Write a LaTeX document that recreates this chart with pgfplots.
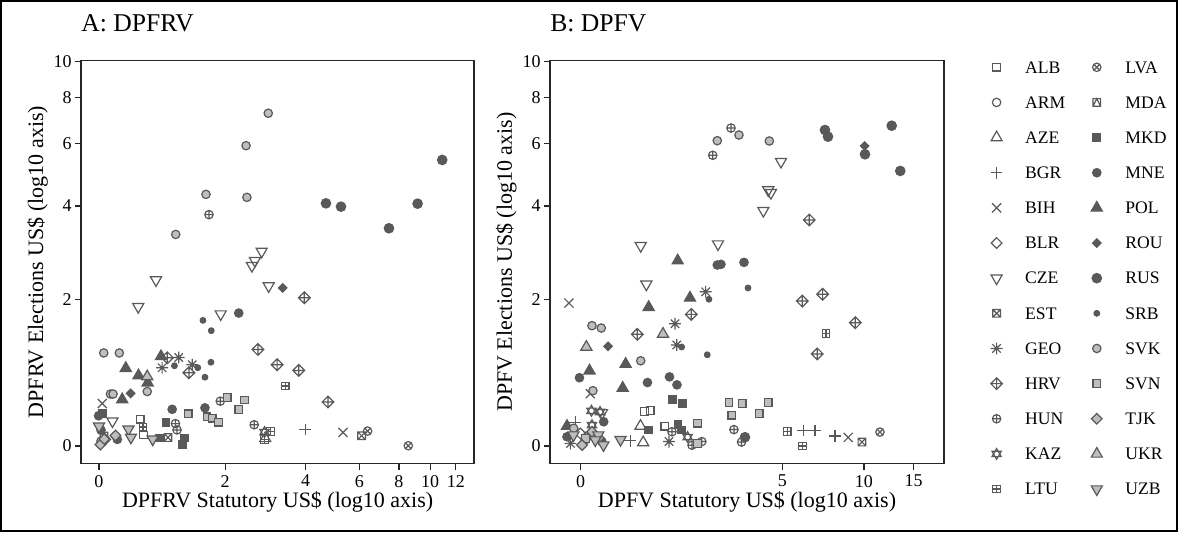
\documentclass[border=0pt]{standalone}
\usepackage{fontspec}
\setmainfont{Liberation Serif}
\usepackage{pgfplots}
\pgfplotsset{compat=1.18}

\definecolor{darkc}{HTML}{595959}
\definecolor{lightc}{HTML}{BEBEBE}

% R-style plotting symbols that pgf lacks
\pgfdeclareplotmark{rdia}{%
  \pgfpathmoveto{\pgfpoint{0pt}{\pgfplotmarksize}}%
  \pgfpathlineto{\pgfpoint{\pgfplotmarksize}{0pt}}%
  \pgfpathlineto{\pgfpoint{0pt}{-\pgfplotmarksize}}%
  \pgfpathlineto{\pgfpoint{-\pgfplotmarksize}{0pt}}%
  \pgfpathclose\pgfusepathqstroke}
\pgfdeclareplotmark{rdia*}{%
  \pgfpathmoveto{\pgfpoint{0pt}{\pgfplotmarksize}}%
  \pgfpathlineto{\pgfpoint{\pgfplotmarksize}{0pt}}%
  \pgfpathlineto{\pgfpoint{0pt}{-\pgfplotmarksize}}%
  \pgfpathlineto{\pgfpoint{-\pgfplotmarksize}{0pt}}%
  \pgfpathclose\pgfusepathqfillstroke}
\pgfdeclareplotmark{rdiaplus}{%
  \pgfpathmoveto{\pgfpoint{0pt}{\pgfplotmarksize}}%
  \pgfpathlineto{\pgfpoint{\pgfplotmarksize}{0pt}}%
  \pgfpathlineto{\pgfpoint{0pt}{-\pgfplotmarksize}}%
  \pgfpathlineto{\pgfpoint{-\pgfplotmarksize}{0pt}}%
  \pgfpathclose
  \pgfpathmoveto{\pgfpoint{0pt}{\pgfplotmarksize}}\pgfpathlineto{\pgfpoint{0pt}{-\pgfplotmarksize}}%
  \pgfpathmoveto{\pgfpoint{-\pgfplotmarksize}{0pt}}\pgfpathlineto{\pgfpoint{\pgfplotmarksize}{0pt}}%
  \pgfusepathqstroke}
\pgfdeclareplotmark{tridown}{%
  \pgfpathmoveto{\pgfpointpolar{270}{\pgfplotmarksize}}%
  \pgfpathlineto{\pgfpointpolar{30}{\pgfplotmarksize}}%
  \pgfpathlineto{\pgfpointpolar{150}{\pgfplotmarksize}}%
  \pgfpathclose\pgfusepathqstroke}
\pgfdeclareplotmark{tridown*}{%
  \pgfpathmoveto{\pgfpointpolar{270}{\pgfplotmarksize}}%
  \pgfpathlineto{\pgfpointpolar{30}{\pgfplotmarksize}}%
  \pgfpathlineto{\pgfpointpolar{150}{\pgfplotmarksize}}%
  \pgfpathclose\pgfusepathqfillstroke}
\pgfdeclareplotmark{david}{%
  \pgfpathmoveto{\pgfpointpolar{90}{\pgfplotmarksize}}%
  \pgfpathlineto{\pgfpointpolar{210}{\pgfplotmarksize}}%
  \pgfpathlineto{\pgfpointpolar{330}{\pgfplotmarksize}}%
  \pgfpathclose
  \pgfpathmoveto{\pgfpointpolar{270}{\pgfplotmarksize}}%
  \pgfpathlineto{\pgfpointpolar{30}{\pgfplotmarksize}}%
  \pgfpathlineto{\pgfpointpolar{150}{\pgfplotmarksize}}%
  \pgfpathclose\pgfusepathqstroke}
\pgfdeclareplotmark{boxx}{%
  \pgfpathrectanglecorners{\pgfpoint{-\pgfplotmarksize}{-\pgfplotmarksize}}{\pgfpoint{\pgfplotmarksize}{\pgfplotmarksize}}%
  \pgfpathmoveto{\pgfpoint{-\pgfplotmarksize}{-\pgfplotmarksize}}\pgfpathlineto{\pgfpoint{\pgfplotmarksize}{\pgfplotmarksize}}%
  \pgfpathmoveto{\pgfpoint{-\pgfplotmarksize}{\pgfplotmarksize}}\pgfpathlineto{\pgfpoint{\pgfplotmarksize}{-\pgfplotmarksize}}%
  \pgfusepathqstroke}
\pgfdeclareplotmark{boxplus}{%
  \pgfpathrectanglecorners{\pgfpoint{-\pgfplotmarksize}{-\pgfplotmarksize}}{\pgfpoint{\pgfplotmarksize}{\pgfplotmarksize}}%
  \pgfpathmoveto{\pgfpoint{0pt}{-\pgfplotmarksize}}\pgfpathlineto{\pgfpoint{0pt}{\pgfplotmarksize}}%
  \pgfpathmoveto{\pgfpoint{-\pgfplotmarksize}{0pt}}\pgfpathlineto{\pgfpoint{\pgfplotmarksize}{0pt}}%
  \pgfusepathqstroke}
\pgfdeclareplotmark{boxtri}{%
  \pgfpathrectanglecorners{\pgfpoint{-\pgfplotmarksize}{-\pgfplotmarksize}}{\pgfpoint{\pgfplotmarksize}{\pgfplotmarksize}}%
  \pgfpathmoveto{\pgfpoint{-\pgfplotmarksize}{-\pgfplotmarksize}}%
  \pgfpathlineto{\pgfpoint{0pt}{\pgfplotmarksize}}%
  \pgfpathlineto{\pgfpoint{\pgfplotmarksize}{-\pgfplotmarksize}}%
  \pgfusepathqstroke}
\pgfdeclareplotmark{ast8}{%
  \pgfpathmoveto{\pgfpoint{0pt}{1.414\pgfplotmarksize}}\pgfpathlineto{\pgfpoint{0pt}{-1.414\pgfplotmarksize}}%
  \pgfpathmoveto{\pgfpoint{-1.414\pgfplotmarksize}{0pt}}\pgfpathlineto{\pgfpoint{1.414\pgfplotmarksize}{0pt}}%
  \pgfpathmoveto{\pgfpoint{-\pgfplotmarksize}{-\pgfplotmarksize}}\pgfpathlineto{\pgfpoint{\pgfplotmarksize}{\pgfplotmarksize}}%
  \pgfpathmoveto{\pgfpoint{-\pgfplotmarksize}{\pgfplotmarksize}}\pgfpathlineto{\pgfpoint{\pgfplotmarksize}{-\pgfplotmarksize}}%
  \pgfusepathqstroke}

\pgfplotsset{
  mk/.style={only marks, line width=0.6pt, mark options={solid, draw=darkc, fill=#1}},
  ALB/.style={mk=white, mark=square, mark size=1.9pt},
  ARM/.style={mk=white, mark=o, mark size=2.1pt},
  AZE/.style={mk=white, mark=triangle, mark size=3.2pt},
  BGR/.style={mk=white, mark=+, mark size=2.92pt},
  BIH/.style={mk=white, mark=x, mark size=3.2pt},
  BLR/.style={mk=white, mark=rdia, mark size=2.65pt},
  CZE/.style={mk=white, mark=tridown, mark size=3.2pt},
  EST/.style={mk=white, mark=boxx, mark size=1.9pt},
  GEO/.style={mk=white, mark=ast8, mark size=2.1pt},
  HRV/.style={mk=white, mark=rdiaplus, mark size=2.92pt},
  HUN/.style={mk=white, mark=oplus, mark size=2.1pt},
  KAZ/.style={mk=white, mark=david, mark size=2.7pt},
  LTU/.style={mk=white, mark=boxplus, mark size=1.9pt},
  LVA/.style={mk=white, mark=otimes, mark size=2.1pt},
  MDA/.style={mk=white, mark=boxtri, mark size=1.9pt},
  MKD/.style={mk=darkc, mark=square*, mark size=1.9pt},
  MNE/.style={mk=darkc, mark=*, mark size=2.1pt},
  POL/.style={mk=darkc, mark=triangle*, mark size=3.2pt},
  ROU/.style={mk=darkc, mark=rdia*, mark size=2.1pt},
  RUS/.style={mk=darkc, mark=*, mark size=2.35pt},
  SRB/.style={mk=darkc, mark=*, mark size=1.4pt},
  SVK/.style={mk=lightc, mark=*, mark size=2.1pt},
  SVN/.style={mk=lightc, mark=square*, mark size=1.9pt},
  TJK/.style={mk=lightc, mark=rdia*, mark size=2.65pt},
  UKR/.style={mk=lightc, mark=triangle*, mark size=3.2pt},
  UZB/.style={mk=lightc, mark=tridown*, mark size=3.2pt},
  % both axes are pseudo-log: positions are asinh(value/2)
  panel/.style={
    scale only axis, height=201.4pt, anchor=south west,
    ymin=-0.105, ymax=2.318,
    ytick={0,0.8814,1.4436,1.8184,2.0947,2.3124},
    yticklabels={0,2,4,6,8,10},
    xtick pos=left, ytick pos=left,
    tick align=outside, major tick length=3pt,
    axis line style={line width=0.8pt, black!85},
    major tick style={line width=0.6pt, black!85},
    tick label style={font=\fontsize{9}{10}\selectfont},
    yticklabel style={inner sep=1.5pt},
    xticklabel style={inner sep=0pt, yshift=-2.6pt},
    label style={font=\fontsize{11}{13}\selectfont, inner sep=0pt},
    xlabel style={at={(axis description cs:0.5,-0.1093)}, anchor=base},
    ylabel style={at={(axis description cs:-0.0966,0.5)}, anchor=base},
    title style={at={(axis description cs:0,1.0432)}, anchor=base west,
      inner sep=0pt, font=\fontsize{12.8}{14}\selectfont},
  },
}

\begin{document}
\begin{tikzpicture}
\begin{axis}[panel, at={(40.5pt,34.25pt)}, width=196.65pt,
    xmin=-0.1257, xmax=2.621,
    xtick={0,0.8814,1.4436,1.8184,2.0947,2.3124,2.4918},
    xticklabels={0,2,4,6,8,10,12},
    title={A: DPFRV},
    xlabel={DPFRV Statutory US\$ (log10 axis)},
    ylabel={DPFRV Elections US\$ (log10 axis)}]
\addplot[ALB] coordinates {(0.288,0.161)(0.311,0.067)};
\addplot[ARM] coordinates {(0.014,0.030)};
\addplot[AZE] coordinates {(1.161,0.046)};
\addplot[BGR] coordinates {(1.441,0.100)};
\addplot[BIH] coordinates {(0.023,0.256)(1.704,0.082)};
\addplot[BLR] coordinates {(0.044,0.040)};
\addplot[CZE] coordinates {(1.136,1.171)(1.089,1.115)(1.068,1.085)(0.398,0.999)
  (1.185,0.963)(0.274,0.838)(0.850,0.794)(0.094,0.150)};
\addplot[EST] coordinates {(0.482,0.051)(1.834,0.062)};
\addplot[GEO] coordinates {(0.441,0.471)(0.557,0.533)(0.651,0.489)};
\addplot[HRV] coordinates {(1.434,0.892)(1.110,0.581)(1.244,0.489)(1.395,0.455)
  (1.599,0.265)(0.477,0.531)(0.628,0.441)};
\addplot[HUN] coordinates {(0.768,1.392)(0.534,0.135)(0.545,0.097)(0.847,0.270)(1.084,0.128)};
\addplot[KAZ] coordinates {(1.156,0.084)};
\addplot[LTU] coordinates {(0.307,0.114)(1.301,0.361)(1.198,0.087)(1.157,0.040)};
\addplot[LVA] coordinates {(1.876,0.090)(2.160,0.002)};
\addplot[MDA] coordinates {(0.035,0.060)};
\addplot[MKD] coordinates {(0.024,0.196)(0.468,0.141)(0.420,0.048)(0.597,0.049)(0.584,0.010)};
\addplot[MNE] coordinates {(0.976,0.800)(0.511,0.221)(0.740,0.230)(-0.003,0.182)
  (0.128,0.040)(0.014,0.096)};
\addplot[POL] coordinates {(0.187,0.468)(0.276,0.424)(0.433,0.539)(0.162,0.280)(0.340,0.381)};
\addplot[ROU] coordinates {(1.283,0.951)(0.221,0.317)};
\addplot[RUS] coordinates {(1.585,1.460)(1.690,1.440)(2.225,1.458)(2.025,1.310)(2.397,1.721)};
\addplot[SRB] coordinates {(0.726,0.756)(0.784,0.694)(0.782,0.504)(0.527,0.483)
  (0.690,0.471)(0.740,0.414)};
\addplot[SVK] coordinates {(1.182,2.002)(1.027,1.807)(0.747,1.514)(1.033,1.496)
  (0.536,1.273)(0.033,0.560)(0.142,0.560)(0.080,0.313)(0.098,0.313)(0.337,0.328)};
\addplot[SVN] coordinates {(0.623,0.194)(0.754,0.176)(0.790,0.168)(0.834,0.143)
  (0.895,0.292)(0.976,0.221)(1.017,0.277)};
\addplot[TJK] coordinates {(0.010,0.009)(0.037,0.042)(0.115,0.063)};
\addplot[UKR] coordinates {(0.337,0.418)};
\addplot[UZB] coordinates {(0.000,0.119)(0.206,0.101)(0.223,0.052)(0.375,0.041)};
\end{axis}

\begin{axis}[panel, at={(275pt,34.25pt)}, width=197pt,
    xmin=-0.2506, xmax=2.966,
    xtick={0,1.6472,2.3124,2.7173},
    xticklabels={0,5,10,15},
    title={B: DPFV},
    xlabel={DPFV Statutory US\$ (log10 axis)},
    ylabel={DPFV Elections US\$ (log10 axis)},
    legend columns=13, transpose legend, legend cell align=left,
    legend image code/.code={\path (-9pt,0pt) (9pt,0pt); \draw[#1] plot coordinates {(0pt,0pt)};},
    legend style={at={(1.0863,1.0273)}, anchor=north west, draw=none, fill=none,
      inner sep=0pt, outer sep=0pt, row sep=0pt, font=\fontsize{8.8}{10}\selectfont,
      nodes={inner sep=0pt, text width=22pt, text height=5.8pt, text depth=0pt,
        minimum height=17.575pt},
      /tikz/every odd column/.append style={column sep=5pt},
      /tikz/every even column/.append style={column sep=4.5pt}}]
\addplot[ALB] coordinates {(0.521,0.209)(0.568,0.215)(0.686,0.120)};
\addlegendentry{ALB}
\addplot[ARM] coordinates {(0.035,0.036)};
\addlegendentry{ARM}
\addplot[AZE] coordinates {(0.510,0.021)(0.488,0.120)};
\addlegendentry{AZE}
\addplot[BGR] coordinates {(1.817,0.094)(1.913,0.094)(2.076,0.060)(0.404,0.031)(-0.044,0.144)};
\addlegendentry{BGR}
\addplot[BIH] coordinates {(-0.096,0.860)(0.078,0.315)(2.184,0.052)};
\addlegendentry{BIH}
\addplot[BLR] coordinates {(-0.003,0.076)};
\addlegendentry{BLR}
\addplot[CZE] coordinates {(1.635,1.711)(1.531,1.540)(1.553,1.524)(1.491,1.416)
  (1.121,1.215)(0.490,1.205)(0.536,0.973)(0.174,0.200)};
\addlegendentry{CZE}
\addplot[EST] coordinates {(2.296,0.024)};
\addlegendentry{EST}
\addplot[GEO] coordinates {(1.020,0.928)(0.770,0.736)(0.784,0.608)(0.721,0.027)(-0.083,0.016)};
\addlegendentry{GEO}
\addplot[HRV] coordinates {(1.866,1.360)(0.903,0.792)(0.462,0.672)(1.809,0.872)
  (1.975,0.913)(2.242,0.742)(1.931,0.554)};
\addlegendentry{HRV}
\addplot[HUN] coordinates {(1.227,1.913)(1.078,1.749)(1.251,0.099)(1.313,0.024)
  (0.989,0.027)(0.909,0.005)(0.745,0.086)};
\addlegendentry{HUN}
\addplot[KAZ] coordinates {(0.088,0.212)(0.158,0.205)(0.092,0.126)(0.873,0.054)};
\addlegendentry{KAZ}
\addplot[LTU] coordinates {(2.002,0.678)(1.686,0.088)(1.812,0.000)};
\addlegendentry{LTU}
\addplot[LVA] coordinates {(2.443,0.084)};
\addlegendentry{LVA}
\addplot[MDA] coordinates {(0.060,0.060)};
\addlegendentry{MDA}
\addplot[MKD] coordinates {(0.751,0.279)(0.833,0.256)(0.555,0.097)(0.794,0.131)(0.820,0.096)};
\addlegendentry{MKD}
\addplot[MNE] coordinates {(1.115,1.089)(1.145,1.093)(1.333,1.105)(-0.010,0.411)
  (0.545,0.382)(0.725,0.416)(0.786,0.368)(0.188,0.146)(-0.112,0.056)(0.174,0.026)};
\addlegendentry{MNE}
\addplot[POL] coordinates {(0.792,1.115)(0.892,0.891)(0.555,0.835)(0.367,0.493)
  (0.072,0.453)(0.343,0.349)(-0.112,0.120)};
\addlegendentry{POL}
\addplot[ROU] coordinates {(2.318,1.805)(0.223,0.600)};
\addlegendentry{ROU}
\addplot[RUS] coordinates {(1.994,1.901)(2.019,1.861)(2.539,1.927)(2.321,1.755)
  (2.609,1.655)(1.341,0.053)};
\addlegendentry{RUS}
\addplot[SRB] coordinates {(1.366,0.951)(1.047,0.883)(0.824,0.596)(1.033,0.549)};
\addlegendentry{SRB}
\addplot[SVK] coordinates {(1.115,1.837)(1.292,1.871)(1.540,1.835)(0.092,0.724)
  (0.168,0.710)(0.490,0.513)(0.100,0.333)(-0.057,0.107)};
\addlegendentry{SVK}
\addplot[SVN] coordinates {(1.211,0.261)(1.319,0.255)(1.531,0.261)(1.233,0.185)
  (1.458,0.197)(0.955,0.138)(0.953,0.015)(0.038,0.046)};
\addlegendentry{SVN}
\addplot[TJK] coordinates {(0.011,0.006)(0.092,0.086)(0.147,0.048)};
\addlegendentry{TJK}
\addplot[UKR] coordinates {(0.046,0.596)(0.672,0.674)};
\addlegendentry{UKR}
\addplot[UZB] coordinates {(0.325,0.038)(0.186,0.006)(0.144,0.066)(-0.059,0.066)(0.119,0.036)};
\addlegendentry{UZB}
\end{axis}

\draw[line width=1pt] (0.5pt,0.5pt) rectangle (588.5pt,265.5pt);
\end{tikzpicture}
\end{document}
